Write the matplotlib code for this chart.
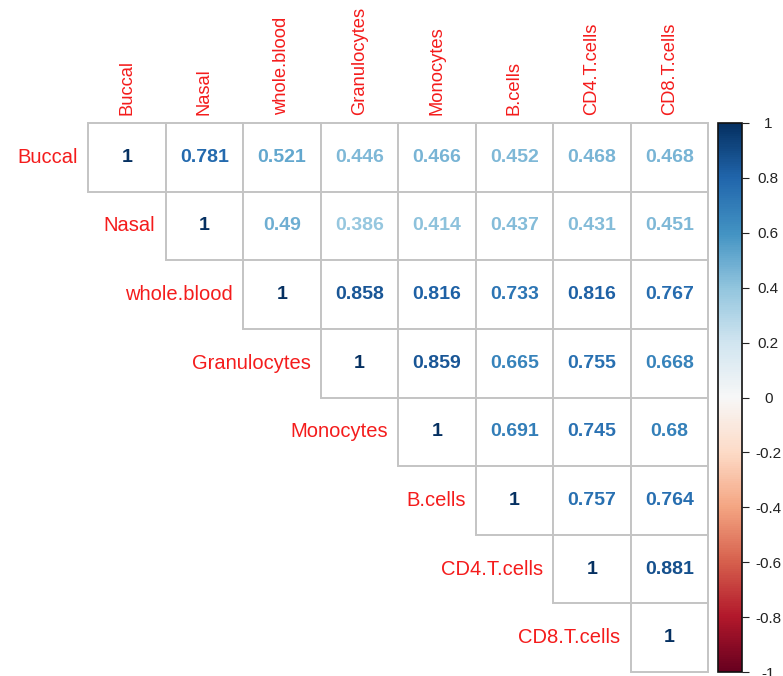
import numpy as np
import matplotlib
matplotlib.use("Agg")
import matplotlib.pyplot as plt
from matplotlib.patches import Rectangle
from matplotlib.colors import Normalize
from matplotlib.cm import ScalarMappable

plt.rcParams["font.family"] = ["Liberation Sans", "DejaVu Sans"]

# ── Data: upper triangle of the correlation matrix ───────────────────────────
labels = ["Buccal", "Nasal", "whole.blood", "Granulocytes",
          "Monocytes", "B.cells", "CD4.T.cells", "CD8.T.cells"]

row_buccal  = [1, 0.781, 0.521, 0.446, 0.466, 0.452, 0.468, 0.468]
row_nasal   = [1, 0.49, 0.386, 0.414, 0.437, 0.431, 0.451]
row_blood   = [1, 0.858, 0.816, 0.733, 0.816, 0.767]
row_gran    = [1, 0.859, 0.665, 0.755, 0.668]
row_mono    = [1, 0.691, 0.745, 0.68]
row_bcells  = [1, 0.757, 0.764]
row_cd4     = [1, 0.881]
row_cd8     = [1]

rows = [row_buccal, row_nasal, row_blood, row_gran,
        row_mono, row_bcells, row_cd4, row_cd8]

cbar_ticks  = [-1, -0.8, -0.6, -0.4, -0.2, 0, 0.2, 0.4, 0.6, 0.8, 1]
cbar_labels = ["-1", "-0.8", "-0.6", "-0.4", "-0.2", "0",
               "0.2", "0.4", "0.6", "0.8", "1"]

# ── Figure ───────────────────────────────────────────────────────────────────
W, H = 783, 676
fig = plt.figure(figsize=(W / 100, H / 100), dpi=100)

n = len(labels)
gx0, gx1, gy0, gy1 = 88, 708, 123, 672
ax = fig.add_axes([gx0 / W, 1 - gy1 / H, (gx1 - gx0) / W, (gy1 - gy0) / H])
ax.set_xlim(0, n)
ax.set_ylim(n, 0)
ax.axis("off")

cmap = plt.get_cmap("RdBu")
norm = Normalize(-1, 1)
label_red = "#f41c1c"

for i, vals in enumerate(rows):
    for k, v in enumerate(vals):
        j = i + k
        ax.add_patch(Rectangle((j, i), 1, 1, facecolor="white",
                               edgecolor="#c4c4c4", linewidth=1.4, clip_on=False))
        txt = "1" if v == 1 else f"{v:g}"
        ax.text(j + 0.5, i + 0.5, txt, ha="center", va="center",
                fontsize=14, fontweight="bold", color=cmap(norm(v)))
    # row label, right-aligned to the left of the diagonal cell
    ax.text(i - 0.13, i + 0.5, labels[i], ha="right", va="center",
            fontsize=14.5, color=label_red)

# column labels, vertical above each column
for j, name in enumerate(labels):
    ax.text(j + 0.5, -0.12, name, ha="center", va="bottom", rotation=90,
            fontsize=13.2, color=label_red)

# ── Colour legend ────────────────────────────────────────────────────────────
cx0, cx1 = 718, 742
cax = fig.add_axes([cx0 / W, 1 - gy1 / H, (cx1 - cx0) / W, (gy1 - gy0) / H])
sm = ScalarMappable(norm=norm, cmap=cmap)
cb = fig.colorbar(sm, cax=cax, ticks=cbar_ticks)
cb.ax.set_yticklabels(cbar_labels, ha="center")
cb.ax.tick_params(direction="out", length=5, width=0.8, labelsize=11,
                  pad=14, colors="#222222")
cb.outline.set_edgecolor("#111111")
cb.outline.set_linewidth(1.2)

plt.savefig("out.png", dpi=100)
